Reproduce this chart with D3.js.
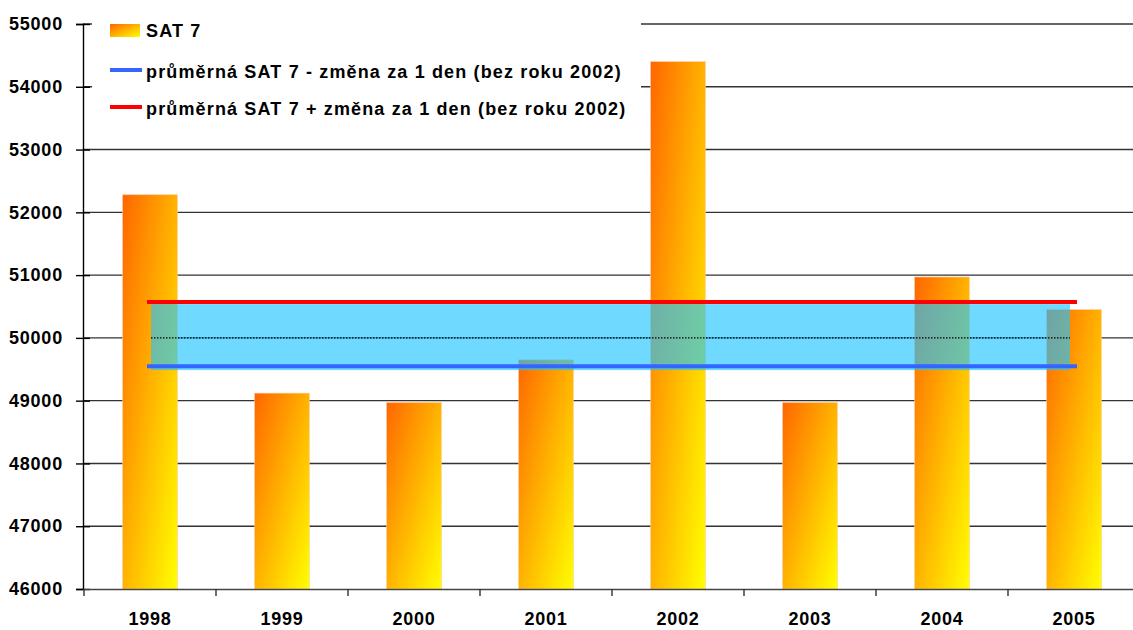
<!DOCTYPE html>
<html>
<head>
<meta charset="utf-8">
<script src="https://cdn.jsdelivr.net/npm/d3@7"></script>
<style>
  body { margin: 0; background: #fff; }
  svg text { font-family: "Liberation Sans", Arial, sans-serif; font-weight: bold; font-size: 18px; letter-spacing: 0.8px; fill: #000; }
  svg text.lbl { letter-spacing: 1.15px; }
</style>
</head>
<body>
<svg id="chart" width="1133" height="630"></svg>
<script>
const years = ["1998", "1999", "2000", "2001", "2002", "2003", "2004", "2005"];
const sat7 = [52280, 49120, 48970, 49650, 54400, 48970, 50970, 50450];
const avgMinus = 49550;   // průměrná SAT 7 - změna za 1 den
const avgPlus = 50570;    // průměrná SAT 7 + změna za 1 den
const yTicks = [46000, 47000, 48000, 49000, 50000, 51000, 52000, 53000, 54000, 55000];
const legendLabels = [
  "SAT 7",
  "průměrná SAT 7 - změna za 1 den (bez roku 2002)",
  "průměrná SAT 7 + změna za 1 den (bez roku 2002)"
];

const svg = d3.select("#chart");
const plotLeft = 83, plotRight = 1140, plotTop = 24, plotBottom = 589;

const x = d3.scaleBand().domain(years).range([plotLeft + 1, plotRight]).padding(0);
const y = d3.scaleLinear().domain([46000, 55000]).range([plotBottom, plotTop]);
const barW = x.bandwidth() * 0.415;
const cx = d => x(d) + x.bandwidth() / 2;

const defs = svg.append("defs");
const grad = defs.append("linearGradient").attr("id", "barGrad")
  .attr("x1", 0).attr("y1", 0).attr("x2", 1).attr("y2", 1);
grad.append("stop").attr("offset", "0%").attr("stop-color", "#ff6600");
grad.append("stop").attr("offset", "100%").attr("stop-color", "#ffff00");

// gridlines
svg.append("g").selectAll("line")
  .data(yTicks.filter(t => t > 46000))
  .enter().append("line")
  .attr("x1", plotLeft).attr("x2", 1133)
  .attr("y1", d => y(d)).attr("y2", d => y(d))
  .attr("stroke", "#333").attr("stroke-width", 1.4);

// bars
svg.append("g").selectAll("rect")
  .data(sat7)
  .enter().append("rect")
  .attr("x", (d, i) => cx(years[i]) - barW / 2)
  .attr("y", d => y(d))
  .attr("width", barW)
  .attr("height", d => plotBottom - y(d))
  .attr("fill", "url(#barGrad)")
  .attr("stroke", "#ffc8a0").attr("stroke-width", 0.6);

// band between the two lines (see-through cyan)
const x0 = cx(years[0]), x1 = cx(years[years.length - 1]);
const bandTop = y(avgPlus) + 2, bandBottom = y(avgMinus) + 4;
svg.append("rect")
  .attr("x", x0 + 1)
  .attr("y", bandTop)
  .attr("width", (x1 - 4) - (x0 + 1))
  .attr("height", bandBottom - bandTop)
  .attr("fill", "#22c4ff").attr("fill-opacity", 0.65);

// gridlines seen through the band come out dotted
svg.append("g").selectAll("line")
  .data(yTicks.filter(t => y(t) > bandTop && y(t) < bandBottom))
  .enter().append("line")
  .attr("x1", x0 + 1).attr("x2", x1 - 4)
  .attr("y1", d => y(d)).attr("y2", d => y(d))
  .attr("stroke", "#000").attr("stroke-width", 1.2)
  .attr("stroke-dasharray", "1.5,1.5");

svg.append("line")
  .attr("x1", x0 - 3).attr("x2", x1 + 3)
  .attr("y1", y(avgPlus)).attr("y2", y(avgPlus))
  .attr("stroke", "#ff0000").attr("stroke-width", 4);
svg.append("line")
  .attr("x1", x0 - 3).attr("x2", x1 + 3)
  .attr("y1", y(avgMinus)).attr("y2", y(avgMinus))
  .attr("stroke", "#3366ff").attr("stroke-width", 4);

// y axis
const yAxis = svg.append("g")
  .attr("transform", `translate(${plotLeft},0)`)
  .call(d3.axisLeft(y).tickValues(yTicks).tickSize(7).tickPadding(13).tickFormat(d3.format("d")));
yAxis.select(".domain").attr("stroke", "#000").attr("stroke-width", 1.4);
yAxis.selectAll(".tick line").attr("x1", 7).attr("stroke", "#000").attr("stroke-width", 1.4);
yAxis.selectAll("text").attr("fill", "#000");

// x axis
const xAxis = svg.append("g")
  .attr("transform", `translate(0,${plotBottom})`)
  .call(d3.axisBottom(x).tickSize(0).tickPadding(23));
xAxis.select(".domain").attr("stroke", "#444").attr("stroke-width", 1.4);
xAxis.selectAll("text").attr("fill", "#000");
svg.append("g").selectAll("line")
  .data(years)
  .enter().append("line")
  .attr("x1", d => x(d)).attr("x2", d => x(d))
  .attr("y1", plotBottom).attr("y2", plotBottom + 7)
  .attr("stroke", "#333").attr("stroke-width", 1.4);
svg.selectAll("g text").attr("font-size", null).attr("font-family", null);

// legend
const lg = svg.append("g");
lg.append("rect").attr("x", 92).attr("y", 8).attr("width", 549).attr("height", 118).attr("fill", "#fff");
lg.append("rect").attr("x", 110).attr("y", 24).attr("width", 30).attr("height", 13).attr("fill", "url(#barGrad)");
lg.append("line").attr("x1", 110).attr("x2", 142).attr("y1", 70).attr("y2", 70)
  .attr("stroke", "#3366ff").attr("stroke-width", 4);
lg.append("line").attr("x1", 110).attr("x2", 142).attr("y1", 107).attr("y2", 107)
  .attr("stroke", "#ff0000").attr("stroke-width", 4);
const legendY = [37, 78, 115];
lg.selectAll("text.lbl")
  .data(legendLabels)
  .enter().append("text")
  .attr("class", "lbl")
  .attr("x", 146)
  .attr("y", (d, i) => legendY[i])
  .text(d => d);
</script>
</body>
</html>
